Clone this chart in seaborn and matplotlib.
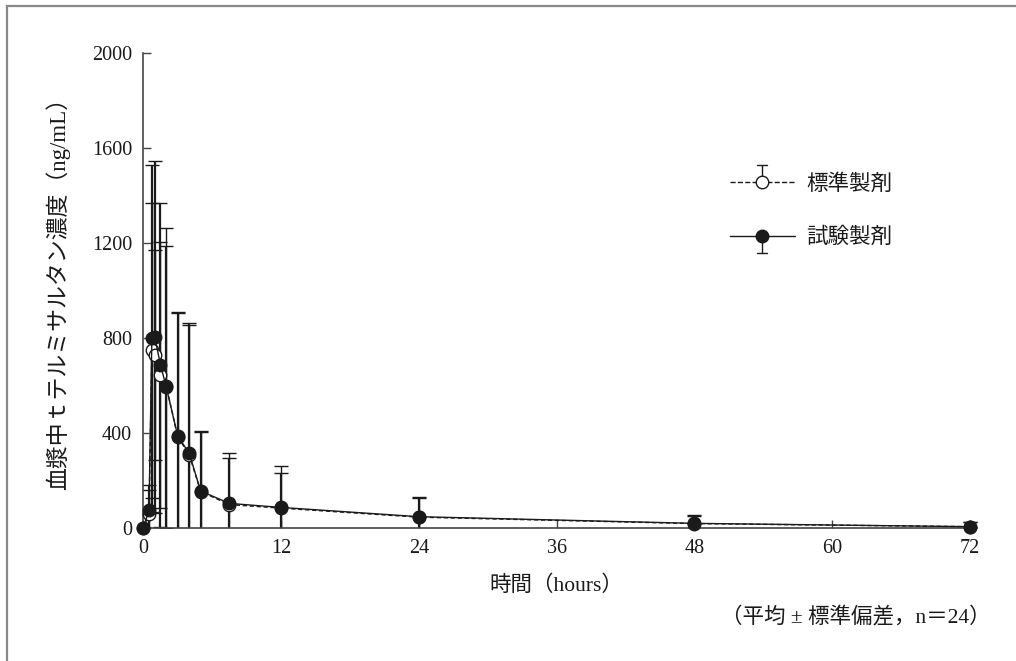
import numpy as np
import pandas as pd
import seaborn as sns
import matplotlib
matplotlib.use("Agg")
import matplotlib.pyplot as plt
from matplotlib.lines import Line2D
from matplotlib.legend_handler import HandlerBase
from matplotlib.patches import Rectangle

# Plasma concentration profiles (mean ± SD, n=24)
hours = [0, 0.5, 0.75, 1, 1.5, 2, 3, 4, 5, 7.5, 12, 24, 48, 72]
ref_mean = [0, 60, 750, 730, 646, 600, 385, 310, 155, 100, 85, 47, 20, 7]
ref_sd = [0, 101, 621, 442, 560, 666, 527, 545, 250, 216, 177, 80, 33, 18]
test_mean = [0, 77, 800, 805, 688, 596, 389, 316, 157, 105, 88, 49, 21, 7]
test_sd = [0, 105, 731, 742, 683, 594, 516, 547, 253, 190, 144, 83, 35, 21]

series_labels = ["標準製剤", "試験製剤"]
x_ticks = [0, 12, 24, 36, 48, 60, 72]
y_ticks = [0, 400, 800, 1200, 1600, 2000]
x_label = "時間（hours）"
y_label = "血漿中ｔテルミサルタン濃度（ng/mL）"
note = "（平均 ± 標準偏差，n＝24）"

sns.set_theme(style="ticks")
plt.rcParams["font.family"] = ["Liberation Serif", "Noto Sans CJK JP", "DejaVu Sans"]
plt.rcParams["axes.unicode_minus"] = False

fig = plt.figure(figsize=(10.16, 6.61), dpi=100)
ax = fig.add_axes([0.141, 0.2007, 0.8206, 0.7187])

df_ref = pd.DataFrame({"hours": hours, "conc": ref_mean, "sd": ref_sd})
df_test = pd.DataFrame({"hours": hours, "conc": test_mean, "sd": test_sd})

ink = "#1a1a1a"
jp_size = 15.5

# error bars (clipped at the x axis)
for df, lw in ((df_ref, 1.0), (df_test, 1.6)):
    d = df[df["sd"] > 0]
    ax.errorbar(d["hours"], d["conc"], yerr=d["sd"], fmt="none",
                ecolor=ink, elinewidth=lw, capsize=5, capthick=1.0, zorder=2)

# reference formulation: dashed line, open circles
sns.lineplot(data=df_ref, x="hours", y="conc", ax=ax, color=ink,
             linestyle=(0, (3, 2)), linewidth=1.0, marker="o", markersize=9,
             markerfacecolor="white", markeredgecolor=ink, markeredgewidth=1.0,
             zorder=3, clip_on=False, errorbar=None)
# test formulation: solid line, filled circles
sns.lineplot(data=df_test, x="hours", y="conc", ax=ax, color=ink,
             linestyle="-", linewidth=1.0, marker="o", markersize=9,
             markerfacecolor=ink, markeredgecolor=ink, markeredgewidth=1.0,
             zorder=4, clip_on=False, errorbar=None)

ax.set_xlim(0, 72.6)
ax.set_ylim(0, 2000)
ax.set_xticks(x_ticks)
ax.set_yticks(y_ticks)
ax.tick_params(direction="in", length=6, width=1.0, color="#444444",
               labelsize=14.5, pad=8, labelcolor=ink)
for side in ("top", "right"):
    ax.spines[side].set_visible(False)
for side in ("left", "bottom"):
    ax.spines[side].set_color("#444444")
    ax.spines[side].set_linewidth(1.2)

ax.set_xlabel(x_label, fontsize=jp_size, color=ink)
ax.set_ylabel(y_label, fontsize=16.5, color=ink)
ax.xaxis.set_label_coords(0.495, -0.10)
ax.yaxis.set_label_coords(-0.088, 0.505)

fig.text(0.975, 0.065, note, ha="right", va="center", fontsize=jp_size, color=ink)


class KeyHandler(HandlerBase):
    """Legend key: line through a circle with a one-sided error bar."""

    def __init__(self, up, **kw):
        super().__init__(**kw)
        self.up = up

    def create_artists(self, legend, orig_handle, xdescent, ydescent,
                       width, height, fontsize, trans):
        y = height / 2 - ydescent
        x0 = -xdescent
        x1 = x0 + width
        xm = (x0 + x1) / 2
        ls = orig_handle.get_linestyle()
        line = Line2D([x0, x1], [y, y], color=ink, lw=1.0, linestyle=ls)
        yb = y + height * 1.15 if self.up else y - height * 1.15
        bar = Line2D([xm, xm], [y, yb], color=ink, lw=1.0)
        cap = Line2D([xm - 3.5, xm + 3.5], [yb, yb], color=ink, lw=1.0)
        mk = Line2D([xm], [y], marker="o", markersize=9, linestyle="none",
                    markerfacecolor=orig_handle.get_markerfacecolor(),
                    markeredgecolor=ink, markeredgewidth=1.0)
        arts = [line, bar, cap, mk]
        for a in arts:
            a.set_transform(trans)
        return arts


h_ref = Line2D([], [], color=ink, linestyle=(0, (3, 2)), marker="o",
               markerfacecolor="white")
h_test = Line2D([], [], color=ink, linestyle="-", marker="o",
                markerfacecolor=ink)
leg = fig.legend([h_ref, h_test], series_labels,
                 handler_map={h_ref: KeyHandler(True), h_test: KeyHandler(False)},
                 loc="upper left", bbox_to_anchor=(0.7185, 0.737),
                 bbox_transform=fig.transFigure, frameon=False, fontsize=jp_size,
                 handlelength=3.0, handletextpad=0.55, labelspacing=1.55,
                 borderpad=0, borderaxespad=0)
for t in leg.get_texts():
    t.set_color(ink)

# outer frame of the figure
fig.patches.append(Rectangle((7 / 1016, -0.1), 1.2, 1 - 5.5 / 661 + 0.1,
                             transform=fig.transFigure, fill=False,
                             edgecolor="#888888", linewidth=1.6))

fig.savefig("out.png", dpi=100)
